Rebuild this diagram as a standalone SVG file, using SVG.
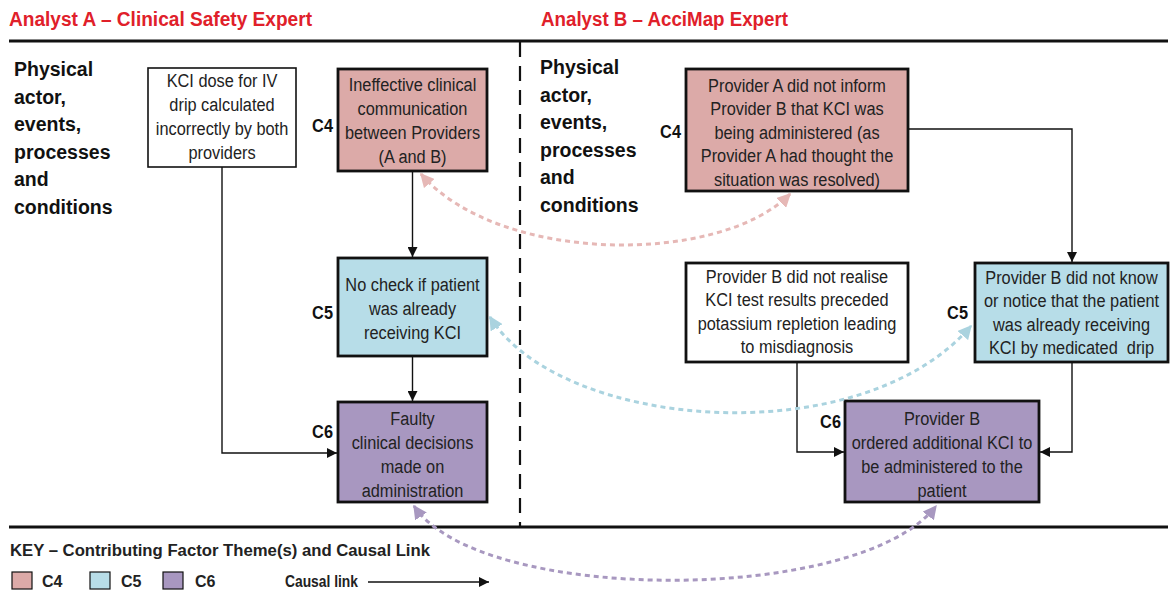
<svg xmlns="http://www.w3.org/2000/svg" width="1173" height="595" viewBox="0 0 1173 595">
  <style>
    .hdr { font-family: "Liberation Sans", Arial, sans-serif; font-weight: bold; font-size: 20px; fill: #e0202a; }
    .side { font-family: "Liberation Sans", Arial, sans-serif; font-weight: bold; font-size: 19.5px; fill: #111; }
    .box { stroke: #111; stroke-width: 1.6; }
    .thick { stroke: #111; stroke-width: 2.8; }
    .t { font-family: "Liberation Sans", Arial, sans-serif; font-size: 19px; fill: #222; text-anchor: middle; }
    .tag { font-family: "Liberation Sans", Arial, sans-serif; font-weight: bold; font-size: 19px; fill: #111; text-anchor: end; }
    .key { font-family: "Liberation Sans", Arial, sans-serif; font-weight: bold; font-size: 16px; fill: #222; }
    .link { fill: none; stroke: #111; stroke-width: 1.4; }
    .dash { fill: none; stroke-width: 3; stroke-dasharray: 5 4; }
    .c4 { fill: #dcaaa8; }
    .c5 { fill: #b7dde8; }
    .c6 { fill: #a897c0; }
  </style>
  <defs>
    <marker id="arrow" viewBox="0 0 10 10" refX="10" refY="5" markerWidth="10" markerHeight="10" markerUnits="userSpaceOnUse" orient="auto">
      <path d="M0,0 L10,5 L0,10 Z" fill="#111"/>
    </marker>
    <marker id="pinkHead" viewBox="0 0 10 10" refX="9" refY="5" markerWidth="14" markerHeight="14" markerUnits="userSpaceOnUse" orient="auto-start-reverse">
      <path d="M0,0 L10,5 L0,10 Z" fill="#e6b8b6"/>
    </marker>
    <marker id="blueHead" viewBox="0 0 10 10" refX="9" refY="5" markerWidth="14" markerHeight="14" markerUnits="userSpaceOnUse" orient="auto-start-reverse">
      <path d="M0,0 L10,5 L0,10 Z" fill="#aad3df"/>
    </marker>
    <marker id="purpleHead" viewBox="0 0 10 10" refX="9" refY="5" markerWidth="14" markerHeight="14" markerUnits="userSpaceOnUse" orient="auto-start-reverse">
      <path d="M0,0 L10,5 L0,10 Z" fill="#a898c0"/>
    </marker>
  </defs>

  <rect width="1173" height="595" fill="#fff"/>

  <!-- column headings and frame -->
  <g id="frame">
    <text class="hdr" x="9" y="26" textLength="303" lengthAdjust="spacingAndGlyphs">Analyst A – Clinical Safety Expert</text>
    <text class="hdr" x="541" y="26" textLength="247" lengthAdjust="spacingAndGlyphs">Analyst B – AcciMap Expert</text>
    <line x1="9" y1="41" x2="1168" y2="41" stroke="#111" stroke-width="3"/>
    <line x1="9" y1="527" x2="1168" y2="527" stroke="#111" stroke-width="3"/>
    <line x1="520" y1="42" x2="520" y2="527" stroke="#111" stroke-width="2.2" stroke-dasharray="15 9"/>
    <text class="side" x="14" y="76">
      <tspan x="14" y="76">Physical</tspan>
      <tspan x="14" y="103.5">actor,</tspan>
      <tspan x="14" y="131">events,</tspan>
      <tspan x="14" y="158.5">processes</tspan>
      <tspan x="14" y="186">and</tspan>
      <tspan x="14" y="213.5">conditions</tspan>
    </text>
    <text class="side" x="540" y="74">
      <tspan x="540" y="74">Physical</tspan>
      <tspan x="540" y="101.5">actor,</tspan>
      <tspan x="540" y="129">events,</tspan>
      <tspan x="540" y="156.5">processes</tspan>
      <tspan x="540" y="184">and</tspan>
      <tspan x="540" y="211.5">conditions</tspan>
    </text>
  </g>

  <!-- Analyst A (box captions are set narrow: scaled 0.86 horizontally about the box centre) -->
  <g id="a-dose">
    <rect class="box" x="148" y="68" width="148" height="99" fill="#fff"/>
    <text class="t" transform="translate(222 0) scale(0.86 1)"><tspan x="0" y="87">KCI dose for IV</tspan><tspan x="0" y="111">drip calculated</tspan><tspan x="0" y="135">incorrectly by both</tspan><tspan x="0" y="159">providers</tspan></text>
  </g>
  <g id="a-c4">
    <rect class="thick c4" x="338" y="69" width="149" height="102"/>
    <text class="tag" transform="translate(333 0) scale(0.86 1)" x="0" y="132">C4</text>
    <text class="t" transform="translate(412.5 0) scale(0.86 1)"><tspan x="0" y="91">Ineffective clinical</tspan><tspan x="0" y="115">communication</tspan><tspan x="0" y="139">between Providers</tspan><tspan x="0" y="163">(A and B)</tspan></text>
  </g>
  <g id="a-c5">
    <rect class="thick c5" x="338" y="258" width="149" height="98"/>
    <text class="tag" transform="translate(333 0) scale(0.86 1)" x="0" y="319">C5</text>
    <text class="t" transform="translate(412.5 0) scale(0.86 1)"><tspan x="0" y="291">No check if patient</tspan><tspan x="0" y="315">was already</tspan><tspan x="0" y="339">receiving KCI</tspan></text>
  </g>
  <g id="a-c6">
    <rect class="thick c6" x="338" y="402" width="149" height="100"/>
    <text class="tag" transform="translate(333 0) scale(0.86 1)" x="0" y="438">C6</text>
    <text class="t" transform="translate(412.5 0) scale(0.86 1)"><tspan x="0" y="425">Faulty</tspan><tspan x="0" y="449">clinical decisions</tspan><tspan x="0" y="473">made on</tspan><tspan x="0" y="497">administration</tspan></text>
  </g>

  <!-- Analyst B -->
  <g id="b-c4">
    <rect class="thick c4" x="686" y="69" width="222" height="122"/>
    <text class="tag" transform="translate(681 0) scale(0.86 1)" x="0" y="138">C4</text>
    <text class="t" transform="translate(797 0) scale(0.86 1)"><tspan x="0" y="92">Provider A did not inform</tspan><tspan x="0" y="115.5">Provider B that KCI was</tspan><tspan x="0" y="139">being administered (as</tspan><tspan x="0" y="162.5">Provider A had thought the</tspan><tspan x="0" y="186">situation was resolved)</tspan></text>
  </g>
  <g id="b-realise">
    <rect class="thick" x="686" y="263" width="222" height="99" fill="#fff"/>
    <text class="t" transform="translate(797 0) scale(0.86 1)"><tspan x="0" y="283">Provider B did not realise</tspan><tspan x="0" y="306.5">KCI test results preceded</tspan><tspan x="0" y="330">potassium repletion leading</tspan><tspan x="0" y="353.5">to misdiagnosis</tspan></text>
  </g>
  <g id="b-c5">
    <rect class="thick c5" x="975" y="263" width="193" height="99"/>
    <text class="tag" transform="translate(968 0) scale(0.86 1)" x="0" y="319">C5</text>
    <text class="t" transform="translate(1071.5 0) scale(0.86 1)"><tspan x="0" y="284">Provider B did not know</tspan><tspan x="0" y="307.5">or notice that the patient</tspan><tspan x="0" y="331">was already receiving</tspan><tspan x="0" y="354.5" xml:space="preserve">KCI by medicated  drip</tspan></text>
  </g>
  <g id="b-c6">
    <rect class="thick c6" x="845" y="401" width="194" height="101"/>
    <text class="tag" transform="translate(841 0) scale(0.86 1)" x="0" y="428">C6</text>
    <text class="t" transform="translate(942 0) scale(0.86 1)"><tspan x="0" y="425">Provider B</tspan><tspan x="0" y="449">ordered additional KCI to</tspan><tspan x="0" y="473">be administered to the</tspan><tspan x="0" y="497">patient</tspan></text>
  </g>

  <!-- causal links and cross-analyst theme links -->
  <g id="connectors">
    <path class="link" d="M222,167 V453 H337" marker-end="url(#arrow)"/>
    <path class="link" d="M412.5,171 V257" marker-end="url(#arrow)"/>
    <path class="link" d="M412.5,356 V401" marker-end="url(#arrow)"/>
    <path class="link" d="M908,129 H1072 V262" marker-end="url(#arrow)"/>
    <path class="link" d="M797,362 V452 H844" marker-end="url(#arrow)"/>
    <path class="link" d="M1072,362 V452 H1040" marker-end="url(#arrow)"/>
    <path class="dash" stroke="#e6b8b6" d="M421,174 C500,265 720,265 790,194" marker-start="url(#pinkHead)" marker-end="url(#pinkHead)"/>
    <path class="dash" stroke="#aad3df" d="M490,317 C560,430 860,455 971,326" marker-start="url(#blueHead)" marker-end="url(#blueHead)"/>
    <path class="dash" stroke="#a898c0" d="M414,506 C480,605 860,605 936,506" marker-start="url(#purpleHead)" marker-end="url(#purpleHead)"/>
  </g>

  <!-- key -->
  <g id="key">
    <text class="key" x="10" y="556" textLength="420" lengthAdjust="spacingAndGlyphs">KEY – Contributing Factor Theme(s) and Causal Link</text>
    <rect class="c4" x="12" y="572" width="20" height="17" stroke="#111" stroke-width="1.2"/>
    <text class="key" x="42" y="587">C4</text>
    <rect class="c5" x="90" y="572" width="20" height="17" stroke="#111" stroke-width="1.2"/>
    <text class="key" x="121" y="587">C5</text>
    <rect class="c6" x="163" y="572" width="20" height="17" stroke="#111" stroke-width="1.2"/>
    <text class="key" x="195" y="587">C6</text>
    <text class="key" x="285" y="587" textLength="73" lengthAdjust="spacingAndGlyphs">Causal link</text>
    <line x1="368" y1="582" x2="489" y2="582" stroke="#111" stroke-width="1.4" marker-end="url(#arrow)"/>
  </g>
</svg>
